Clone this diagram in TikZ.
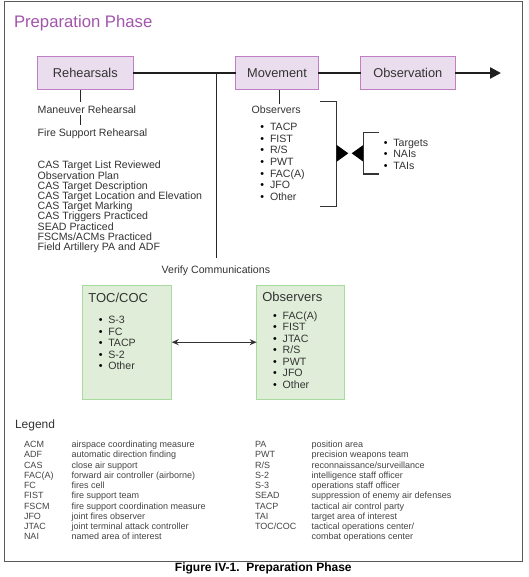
\documentclass[tikz,border=0pt]{standalone}
\usepackage{fontspec}
\setmainfont{Liberation Sans}
\usetikzlibrary{arrows.meta,calc}
\definecolor{ppfill}{HTML}{EADDED}
\definecolor{ppdraw}{HTML}{C07EC5}
\definecolor{ttlcol}{HTML}{A355AB}
\definecolor{gnfill}{HTML}{E0EED9}
\definecolor{gndraw}{HTML}{A8DB9E}
\definecolor{txt}{HTML}{333333}
\definecolor{lgtxt}{HTML}{444444}
\begin{document}
\begin{tikzpicture}[x=1pt,y=-1pt,
  every node/.style={inner sep=0pt,outer sep=0pt,text=txt},
  body/.style={font=\fontsize{10.6}{10.2}\selectfont,anchor=base west},
  bul/.style={font=\fontsize{10.6}{10.2}\selectfont,anchor=base,text=black},
  phase/.style={draw=ppdraw,fill=ppfill,line width=0.9pt,minimum height=33.3pt,font=\fontsize{12.8}{14}\selectfont},
  gbox/.style={draw=gndraw,fill=gnfill,line width=0.9pt,minimum height=114.3pt},
  boxttl/.style={font=\fontsize{13}{15}\selectfont,anchor=base west},
  mainln/.style={line width=2.3pt,draw=black!88},
  thinln/.style={line width=1.2pt,draw=black!85},
  brk/.style={line width=1.3pt,draw=black!80},
  lgtitle/.style={font=\fontsize{12}{14}\selectfont,anchor=base west},
  lgent/.style={font=\fontsize{9}{10}\selectfont,anchor=base west,text=lgtxt},
  capt/.style={font=\fontsize{12}{14}\selectfont\bfseries,text=black,anchor=center}]
\useasboundingbox (0,0) rectangle (528,577);
\fill[white] (0,0) rectangle (528,577);
\draw[line width=1pt,draw=black!65] (4,2) rectangle (522.7,561);

% title
\node[font=\fontsize{16.7}{19}\selectfont,text=ttlcol,anchor=base west] (title) at (14,27.3) {Preparation Phase};

% phase boxes
\node[phase,minimum width=96pt] (reh) at (85.3,73) {Rehearsals};
\node[phase,minimum width=82.6pt] (mov) at (277,73) {Movement};
\node[phase,minimum width=94.3pt] (obs) at (407.8,73) {Observation};
\coordinate (aend) at (501,73);
\draw[mainln] (reh.east) -- (mov.west);
\draw[mainln] (mov.east) -- (obs.west);
\draw[mainln,-{Triangle[length=11pt,width=11pt]}] (obs.east) -- (aend);

% vertical line to Verify Communications
\coordinate (vtop) at (216.7,73);
\coordinate (vbot) at (216.7,258.3);
\draw[thinln] (vtop) -- (vbot);

% rehearsal list
\coordinate (rt) at (80.3,101.7);
\draw[thinln] (rt |- reh.south) -- (rt);
\node[body] (man) at (37.7,113.8) {Maneuver Rehearsal};
\coordinate (m1) at (80.3,115.5);
\coordinate (m2) at (80.3,125);
\draw[thinln] (m1) -- (m2);
\node[body] (fire) at (37.7,136.5) {Fire Support Rehearsal};
\foreach [count=\i] \t in {CAS Target List Reviewed,Observation Plan,CAS Target Description,CAS Target Location and Elevation,CAS Target Marking,CAS Triggers Practiced,SEAD Practiced,FSCMs/ACMs Practiced,Field Artillery PA and ADF}
  \node[body] (cas\i) at (37.7,{168.8+10.2*(\i-1)}) {\t};
\node[body] (ver) at (161.7,273.8) {Verify Communications};

% observers under Movement
\coordinate (mt) at (279.3,104);
\draw[thinln] (mt |- mov.south) -- (mt);
\node[body] (obsv) at (251.7,113.1) {Observers};
\foreach [count=\i] \t in {TACP,FIST,R/S,PWT,FAC(A),JFO,Other}{
  \node[bul] (ob\i) at (262.3,{130.5+11.67*(\i-1)}) {•};
  \node[body] (ot\i) at (270,{130.5+11.67*(\i-1)}) {\t};
}

% brackets and triangles
\draw[brk] (320,101.7) -- (336.7,101.7) -- (336.7,206.7) -- (320,206.7);
\fill[black] (336.7,145) -- (348.3,153.3) -- (336.7,161.7) -- cycle;
\fill[black] (363.3,145) -- (351.7,153.3) -- (363.3,161.7) -- cycle;
\draw[brk] (379.3,132.7) -- (363.3,132.7) -- (363.3,174) -- (379.3,174);
\foreach [count=\i] \t/\y in {Targets/142.3,NAIs/154,TAIs/165.3}{
  \node[bul] (tb\i) at (385.7,{\y+3.8}) {•};
  \node[body] (tt\i) at (393.3,{\y+3.8}) {\t};
}

% green boxes
\node[gbox,minimum width=89pt] (toc) at (127.2,342.2) {};
\node[gbox,minimum width=87.6pt] (obx) at (300.5,342.2) {};
\node[boxttl] (tocT) at (88.3,302) {TOC/COC};
\node[boxttl] (obxT) at (262.3,301.4) {Observers};
\foreach [count=\i] \t in {S-3,FC,TACP,S-2,Other}{
  \node[bul] (cb\i) at (100.7,{323.8+11.5*(\i-1)}) {•};
  \node[body] (ct\i) at (108.3,{323.8+11.5*(\i-1)}) {\t};
}
\foreach [count=\i] \t in {FAC(A),FIST,JTAC,R/S,PWT,JFO,Other}{
  \node[bul] (vb\i) at (275,{319.5+11.43*(\i-1)}) {•};
  \node[body] (vt\i) at (282.7,{319.5+11.43*(\i-1)}) {\t};
}
\draw[line width=1.2pt,draw=black!80,{Stealth[length=7pt,width=6pt]}-{Stealth[length=7pt,width=6pt]}] (toc.east) -- (obx.west);

% legend
\node[lgtitle] (leg) at (15,428.3) {Legend};
\foreach [count=\i] \t in {ACM,ADF,CAS,FAC(A),FC,FIST,FSCM,JFO,JTAC,NAI}
  \node[lgent] (la\i) at (24,{447.5+10.27*(\i-1)}) {\t};
\foreach [count=\i] \t in {airspace coordinating measure,automatic direction finding,close air support,forward air controller (airborne),fires cell,fire support team,fire support coordination measure,joint fires observer,joint terminal attack controller,named area of interest}
  \node[lgent] (ld\i) at (71.7,{447.5+10.27*(\i-1)}) {\t};
\foreach [count=\i] \t in {PA,PWT,R/S,S-2,S-3,SEAD,TACP,TAI,TOC/COC}
  \node[lgent] (ra\i) at (255,{447.5+10.27*(\i-1)}) {\t};
\foreach [count=\i] \t in {position area,precision weapons team,reconnaissance/surveillance,intelligence staff officer,operations staff officer,suppression of enemy air defenses,tactical air control party,target area of interest,tactical operations center/,combat operations center}
  \node[lgent] (rd\i) at (311.7,{447.5+10.27*(\i-1)}) {\t};

% caption
\node[capt] (cap) at (263.3,568) {Figure IV-1.\ \ Preparation Phase};
\end{tikzpicture}
\end{document}
